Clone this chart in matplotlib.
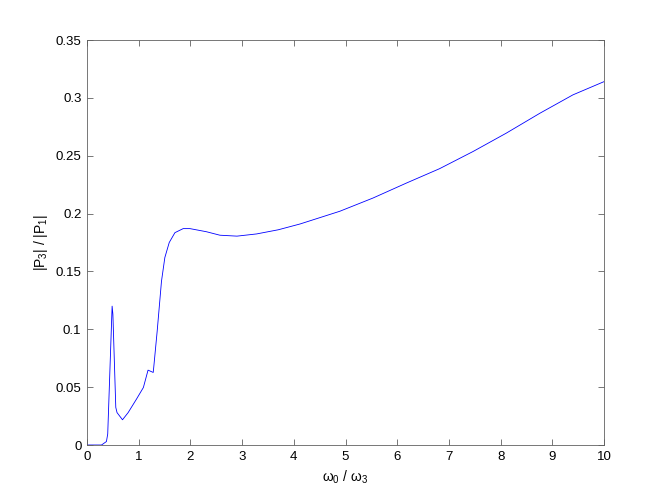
import matplotlib
matplotlib.use("Agg")
import matplotlib.pyplot as plt

x_vals = [0, 0.28, 0.375, 0.40, 0.485, 0.50, 0.556, 0.58, 0.686, 0.795, 0.957,
          1.09, 1.18, 1.28, 1.29, 1.357, 1.44, 1.505, 1.59, 1.70, 1.86, 1.99,
          2.31, 2.57, 2.9, 3.28, 3.7, 4.12, 4.89, 5.53, 6.18, 6.82, 7.47,
          8.11, 8.76, 9.40, 10.0]
y_vals = [0, 0, 0.003, 0.0095, 0.120, 0.113, 0.0325, 0.028, 0.0218, 0.028, 0.0397,
          0.0497, 0.0647, 0.0627, 0.067, 0.0985, 0.1415, 0.162, 0.175, 0.1835, 0.187, 0.187,
          0.1843, 0.1813, 0.1805, 0.1824, 0.186, 0.191, 0.202, 0.2134, 0.2264, 0.2388, 0.2537,
          0.2695, 0.2867, 0.3026, 0.314]

x_ticks = [0, 1, 2, 3, 4, 5, 6, 7, 8, 9, 10]
y_ticks = [0, 0.05, 0.1, 0.15, 0.2, 0.25, 0.3, 0.35]
y_tick_labels = ["0", "0.05", "0.1", "0.15", "0.2", "0.25", "0.3", "0.35"]

plt.rcParams['font.family'] = ['Liberation Sans', 'DejaVu Sans']
plt.rcParams['mathtext.fontset'] = 'custom'
plt.rcParams['mathtext.rm'] = 'Liberation Sans'
plt.rcParams['mathtext.it'] = 'Liberation Sans'

fig = plt.figure(figsize=(6.67, 5.0), dpi=100)
ax = fig.add_axes([0.1305, 0.11, 0.775, 0.81])
ax.plot(x_vals, y_vals, color='#0000ff', linewidth=0.6)
ax.set_xlim(0, 10)
ax.set_ylim(0, 0.35)
ax.set_xticks(x_ticks)
ax.set_xticklabels([str(t) for t in x_ticks])
ax.set_yticks(y_ticks)
ax.set_yticklabels(y_tick_labels)
ax.tick_params(direction='in', top=True, right=True, length=4, width=0.6,
               labelsize=9.5, colors='#000000', pad=4)
for s in ax.spines.values():
    s.set_linewidth(0.6)
    s.set_color('#606060')
ax.tick_params(color='#606060')
ax.set_xlabel(r'$\mathregular{\omega_0\ /\ \omega_3}$', fontsize=10)
ax.set_ylabel(r'$\mathregular{|P_3|\ /\ |P_1|}$', fontsize=10)
fig.savefig('out.png', dpi=100)
